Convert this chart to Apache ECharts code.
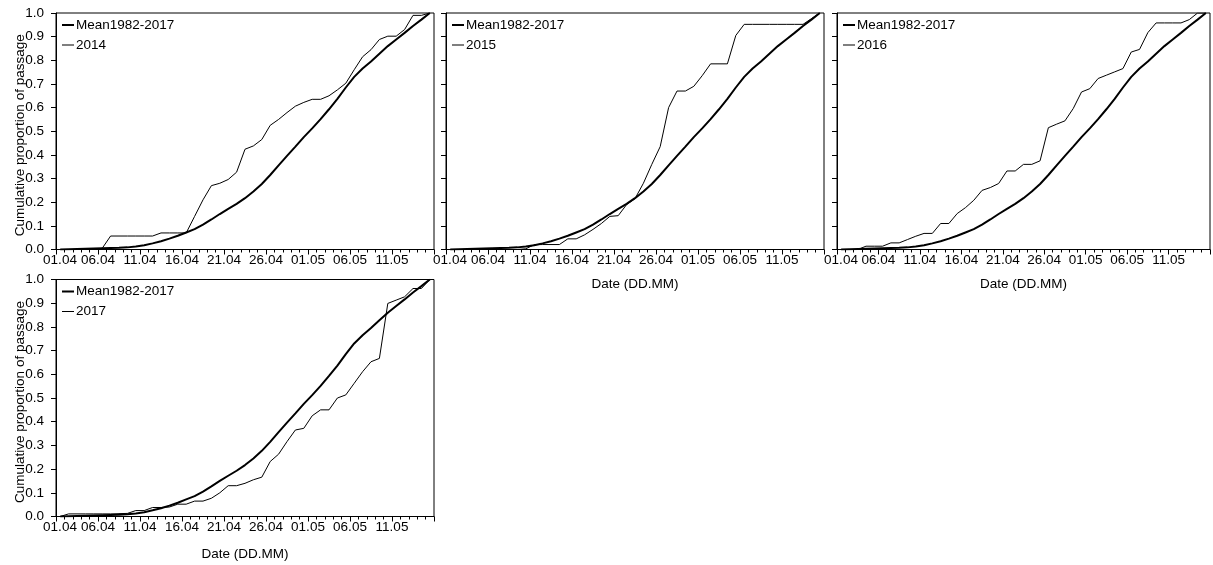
<!DOCTYPE html>
<html>
<head>
<meta charset="utf-8">
<script src="https://cdn.jsdelivr.net/npm/echarts@6/dist/echarts.min.js"></script>
<style>
html,body{margin:0;padding:0;background:#fff;}
#chart{width:1213px;height:565px;}
</style>
</head>
<body>
<div id="chart"></div>
<script>
// Daily categories (01.04 - 15.05)
const dates = ['01.04','02.04','03.04','04.04','05.04','06.04','07.04','08.04','09.04','10.04',
  '11.04','12.04','13.04','14.04','15.04','16.04','17.04','18.04','19.04','20.04',
  '21.04','22.04','23.04','24.04','25.04','26.04','27.04','28.04','29.04','30.04',
  '01.05','02.05','03.05','04.05','05.05','06.05','07.05','08.05','09.05','10.05',
  '11.05','12.05','13.05','14.05','15.05'];
const tickLabels = ['01.04','06.04','11.04','16.04','21.04','26.04','01.05','06.05','11.05',''];
const yTickLabels = ['0.0','0.1','0.2','0.3','0.4','0.5','0.6','0.7','0.8','0.9','1.0'];

const meanName = 'Mean1982-2017';
const mean = [0,0.001,0.002,0.003,0.004,0.005,0.006,0.007,0.009,0.013,
  0.018,0.026,0.035,0.046,0.058,0.072,0.086,0.105,0.127,0.15,
  0.172,0.193,0.217,0.245,0.277,0.315,0.356,0.396,0.435,0.475,
  0.512,0.551,0.593,0.637,0.685,0.73,0.765,0.795,0.828,0.86,
  0.888,0.916,0.945,0.972,1.0];
const y2014 = [0,0,0,0,0,0.005,0.057,0.057,0.057,0.057,
  0.057,0.057,0.07,0.07,0.07,0.07,0.14,0.21,0.27,0.28,
  0.296,0.327,0.424,0.438,0.465,0.525,0.55,0.579,0.606,0.622,
  0.635,0.635,0.65,0.675,0.703,0.76,0.815,0.845,0.888,0.902,
  0.902,0.93,0.99,0.99,1.0];
const y2015 = [0,0,0,0,0,0,0,0,0,0.003,
  0.02,0.021,0.021,0.021,0.045,0.045,0.062,0.085,0.11,0.14,
  0.143,0.19,0.215,0.28,0.36,0.435,0.6,0.67,0.67,0.69,
  0.735,0.785,0.785,0.785,0.905,0.952,0.952,0.952,0.952,0.952,
  0.952,0.952,0.952,0.976,1.0];
const y2016 = [0,0,0,0.014,0.014,0.014,0.028,0.028,0.042,0.056,
  0.068,0.068,0.11,0.11,0.152,0.177,0.208,0.25,0.262,0.279,
  0.332,0.332,0.36,0.36,0.375,0.515,0.53,0.544,0.596,0.666,
  0.68,0.723,0.737,0.751,0.765,0.835,0.846,0.917,0.958,0.958,
  0.958,0.958,0.972,1.0,1.0];
const y2017 = [0,0.011,0.011,0.011,0.011,0.011,0.011,0.012,0.013,0.025,
  0.025,0.038,0.038,0.04,0.052,0.052,0.065,0.065,0.077,0.10,
  0.13,0.13,0.14,0.155,0.166,0.232,0.263,0.316,0.365,0.372,
  0.425,0.45,0.45,0.50,0.513,0.562,0.611,0.653,0.667,0.899,
  0.913,0.927,0.962,0.962,1.0];

const panels = [
  {year:'2014', data:y2014, left:56, top:13, h:236.5, yLabels:true, xName:false, xGap:28},
  {year:'2015', data:y2015, left:446, top:13, h:236.5, yLabels:false, xName:true, xGap:28},
  {year:'2016', data:y2016, left:837, top:13, h:236.5, yLabels:false, xName:true, xGap:28},
  {year:'2017', data:y2017, left:56, top:279.5, h:237, yLabels:true, xName:true, xGap:31}
];

const FONT = '"Liberation Sans", Arial, sans-serif';
const FS = 13.5;
const PW = 378;
const ICON_THICK = 'path://M0,0h0.01v0.01h-0.01z M0,6h12v2h-12z M0,13.99h0.01v0.01h-0.01z';
const ICON_THIN = 'path://M0,0h0.01v0.01h-0.01z M0,6.5h12v1h-12z M0,13.99h0.01v0.01h-0.01z';
const grid = [], xAxis = [], yAxis = [], series = [], legend = [];

panels.forEach((p, g) => {
  grid.push({left:p.left, top:p.top, width:PW, height:p.h, show:true,
    borderColor:'#000', borderWidth:1, backgroundColor:'transparent', containLabel:false});
  xAxis.push({
    type:'value', gridIndex:g, min:0, max:45, interval:5,
    axisLine:{show:true, lineStyle:{color:'#000', width:1}},
    axisTick:{show:true, length:5, lineStyle:{color:'#000'}},
    minorTick:{show:true, splitNumber:5, length:3, lineStyle:{color:'#000'}},
    splitLine:{show:false},
    axisLabel:{show:true, margin:4, color:'#000', fontSize:FS, fontFamily:FONT,
      formatter:(v)=>{ const i = Math.round(v/5); return i === 0 ? '{first|' + tickLabels[i] + '}' : tickLabels[i]; },
      rich:{first:{padding:[0,0,0,8], color:'#000', fontSize:FS, fontFamily:FONT}}},
    name: p.xName ? 'Date (DD.MM)' : '',
    nameLocation:'middle', nameGap:p.xGap,
    nameTextStyle:{color:'#000', fontSize:FS, fontFamily:FONT}
  });
  xAxis.push({
    type:'category', gridIndex:g, data:dates, boundaryGap:true, show:false
  });
  yAxis.push({
    type:'value', gridIndex:g, min:0, max:1, interval:0.1,
    axisLine:{show:true, lineStyle:{color:'#000', width:1}},
    axisTick:{show:true, length:5, lineStyle:{color:'#000'}},
    splitLine:{show:false},
    axisLabel:{show:p.yLabels, margin:12, color:'#000', fontSize:FS, fontFamily:FONT,
      formatter:(v)=>yTickLabels[Math.round(v*10)]},
    name: p.yLabels ? 'Cumulative proportion of passage' : '',
    nameLocation:'middle', nameGap:29, nameMoveOverlap:false,
    nameTextStyle:{color:'#000', fontSize:FS, fontFamily:FONT, padding:[0,8,0,0]}
  });
  series.push({
    name:meanName, type:'line', xAxisIndex:2*g+1, yAxisIndex:g, data:mean,
    symbol:'none', lineStyle:{color:'#000', width:2}, itemStyle:{color:'#000'}, z:3
  });
  series.push({
    name:p.year, type:'line', xAxisIndex:2*g+1, yAxisIndex:g, data:p.data,
    symbol:'none', lineStyle:{color:'#000', width:1}, itemStyle:{color:'#000'}, z:2
  });
  legend.push({
    orient:'vertical', left:p.left+6, top:p.top+5, padding:0,
    itemWidth:12, itemHeight:14, itemGap:6, selectedMode:false,
    data:[{name:meanName, icon:ICON_THICK}, {name:p.year, icon:ICON_THIN}],
    textStyle:{color:'#000', fontSize:FS, fontFamily:FONT, padding:[0,0,0,-3]}
  });
});

const chart = echarts.init(document.getElementById('chart'), null, {renderer:'canvas'});
chart.setOption({animation:false, backgroundColor:'#fff', grid, xAxis, yAxis, series, legend});
</script>
</body>
</html>
